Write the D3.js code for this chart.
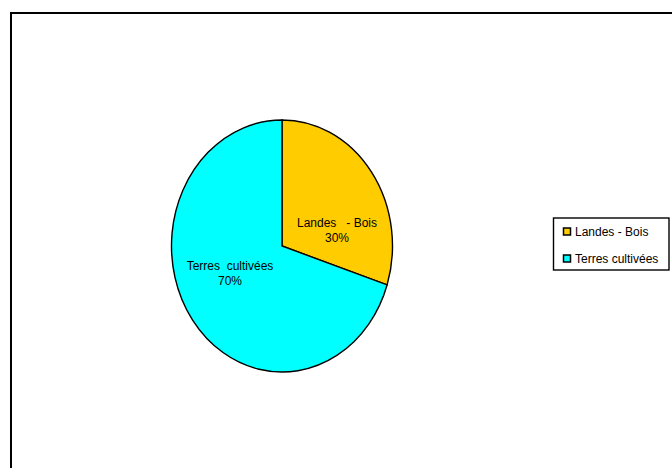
<!DOCTYPE html>
<html><head><meta charset="utf-8">
<script src="https://cdn.jsdelivr.net/npm/d3@7"></script>
<style>body{margin:0;background:#fff}svg{display:block}</style>
</head><body>
<script>
const categories = ["Landes - Bois", "Terres cultivées"];
const values = [30, 70];
const labelLines = [["Landes   - Bois", "30%"], ["Terres  cultivées", "70%"]];
const colors = ["#FFCC00", "#00FFFF"];

const W = 672, H = 468;
const svg = d3.select("body").append("svg").attr("width", W).attr("height", H);
svg.append("rect").attr("width", W).attr("height", H).attr("fill", "#fff");

// frame
svg.append("rect").attr("x", 11).attr("y", 13).attr("width", 700).attr("height", 500)
  .attr("fill", "none").attr("stroke", "#000").attr("stroke-width", 2);

const cx = 282, cy = 246, rx = 110.5, ry = 126;
const pie = d3.pie().sort(null).value(d => d)(values);
const arc = d3.arc().innerRadius(0).outerRadius(1);
const g = svg.append("g").attr("transform", `translate(${cx},${cy}) scale(${rx},${ry})`);
g.selectAll("path").data(pie).join("path")
  .attr("d", arc)
  .attr("fill", (d, i) => colors[i])
  .attr("stroke", "#000").attr("stroke-width", 1.4)
  .attr("vector-effect", "non-scaling-stroke");

const labelPos = [[337, 227], [230, 270]];
pie.forEach((d, i) => {
  const t = svg.append("text").attr("font-family", "Liberation Sans, Arial, sans-serif")
    .attr("font-size", 12).attr("text-anchor", "middle").attr("fill", "#000");
  labelLines[i].forEach((l, j) => {
    t.append("tspan").attr("x", labelPos[i][0]).attr("y", labelPos[i][1] + j * 15)
      .attr("xml:space", "preserve").style("white-space", "pre").text(l);
  });
});

// legend
const lg = svg.append("g");
lg.append("rect").attr("x", 553.5).attr("y", 218).attr("width", 115.5).attr("height", 52)
  .attr("fill", "#fff").attr("stroke", "#000").attr("stroke-width", 1.4);
categories.forEach((c, i) => {
  const y = 231.5 + i * 27;
  lg.append("rect").attr("x", 563.5).attr("y", y - 3.5).attr("width", 7).attr("height", 7)
    .attr("fill", colors[i]).attr("stroke", "#000").attr("stroke-width", 1.5);
  lg.append("text").attr("x", 575).attr("y", y + 4.5)
    .attr("font-family", "Liberation Sans, Arial, sans-serif").attr("font-size", 12)
    .attr("fill", "#000").text(c);
});
</script>
</body></html>
